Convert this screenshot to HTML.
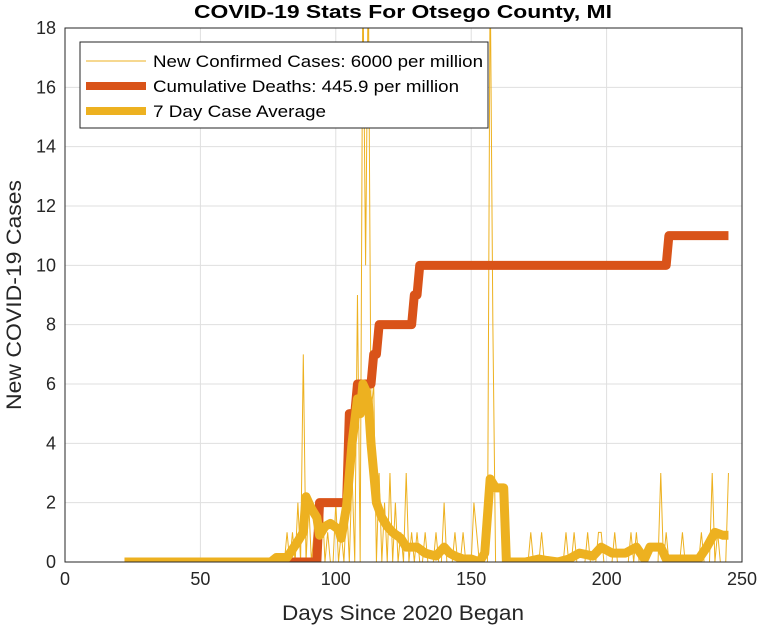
<!DOCTYPE html>
<html><head><meta charset="utf-8"><style>
body{margin:0;background:#fff;font-family:"Liberation Sans",sans-serif}
svg text{font-family:"Liberation Sans",sans-serif}
</style></head><body>
<svg id="chart" width="761" height="630">
<rect width="761" height="630" fill="#fff"/>
<g id="grid"></g><g id="series"></g><g id="axes"></g>
<text x="403" y="18" text-anchor="middle" font-size="18" font-weight="bold" fill="#000" textLength="418" lengthAdjust="spacingAndGlyphs">COVID-19 Stats For Otsego County, MI</text>
<text x="403" y="620" text-anchor="middle" font-size="21" fill="#262626" textLength="242" lengthAdjust="spacingAndGlyphs">Days Since 2020 Began</text>
<text transform="translate(21,295) rotate(-90)" text-anchor="middle" font-size="21" fill="#262626" textLength="230" lengthAdjust="spacingAndGlyphs">New COVID-19 Cases</text>
<g>
<rect x="80" y="42" width="408" height="86" fill="#fff" stroke="#262626" stroke-width="1"/>
<line x1="86" y1="61" x2="146" y2="61" stroke="#EDB120" stroke-width="1"/>
<text x="153" y="67" font-size="17" fill="#000" textLength="330" lengthAdjust="spacingAndGlyphs">New Confirmed Cases: 6000 per million</text>
<line x1="86" y1="86" x2="146" y2="86" stroke="#D95319" stroke-width="8"/>
<text x="153" y="92" font-size="17" fill="#000" textLength="306" lengthAdjust="spacingAndGlyphs">Cumulative Deaths: 445.9 per million</text>
<line x1="86" y1="111" x2="146" y2="111" stroke="#EDB120" stroke-width="8"/>
<text x="153" y="117" font-size="17" fill="#000" textLength="173" lengthAdjust="spacingAndGlyphs">7 Day Case Average</text>
</g>
</svg>
<script>
const xTicks=[0,50,100,150,200,250];
const yTicks=[0,2,4,6,8,10,12,14,16,18];
const caseDays=[82,84,86,88,90,92,95,97,100,102,104,106,108,110,111,112,113,114,116,118,120,122,124,126,128,130,133,137,140,144,147,151,152,157,158,172,176,185,188,193,197,198,203,209,211,220,222,228,235,239,241,245];
const caseVals=[1,1,2,7,2,1,2,1,2,1,2,3,9,20,10,20,5,6,3,2,3,2,1,3,1,1,1,1,2,1,1,2,1,20,8,1,1,1,1,1,1,1,1,1,1,3,1,1,1,3,1,3];
const caseStart=22, caseEnd=245;
const avgDays=[22,76,78,82,86,88,89,91,93,94,96,98,101,102,104,106,108,109,110,111,112,113,115,117,119,121,124,126,130,133,137,140,142,144,147,150,153,155,157,159,162,163,170,175,178,182,186,190,195,198,202,207,211,214,216,220,222,228,234,237,240,243,245];
const avgVals=[0,0,0.15,0.15,0.7,1.0,2.2,1.8,1.5,0.9,1.2,1.3,1.1,0.8,1.9,4,5.5,5.0,6.0,5.8,5.4,4,2,1.5,1.2,1.0,0.8,0.5,0.5,0.3,0.2,0.5,0.3,0.2,0.1,0.1,0,0.3,2.8,2.5,2.5,0,0,0.1,0.05,0,0.1,0.3,0.2,0.5,0.3,0.3,0.5,0.1,0.5,0.5,0.1,0.1,0.1,0.5,1.0,0.9,0.9];
const deathDays=[22,93,94,104,105,107,108,113,114,115,116,128,129,130,131,222,223,245];
const deathVals=[0,0,2,2,5,5,6,6,7,7,8,8,9,9,10,10,11,11];
const X=d=>65+d*(742-65)/250, Y=v=>562-v*(562-28)/18;
const NS='http://www.w3.org/2000/svg';
function mk(p,t,a){const e=document.createElementNS(NS,t);for(const k in a)e.setAttribute(k,a[k]);p.appendChild(e);return e;}
const grid=document.getElementById('grid'),axes=document.getElementById('axes'),ser=document.getElementById('series');
xTicks.forEach(t=>{if(t>0&&t<250){const l=mk(grid,'line',{x1:X(t),x2:X(t),y1:28,y2:562,stroke:'#dfdfdf'});

}
const tx=mk(axes,'text',{x:X(t),y:585,'text-anchor':'middle','font-size':18,fill:'#262626'});tx.textContent=t;

});
yTicks.forEach(t=>{if(t>0&&t<18){const l=mk(grid,'line',{x1:65,x2:742,y1:Y(t),y2:Y(t),stroke:'#dfdfdf'});

}
const tx=mk(axes,'text',{x:56,y:Y(t)+6,'text-anchor':'end','font-size':18,fill:'#262626'});tx.textContent=t;

});
const box=mk(axes,'rect',{x:65,y:28,width:677,height:534,fill:'none',stroke:'#262626'});


let pts=[];for(let d=caseStart;d<=caseEnd;d++){const i=caseDays.indexOf(d);pts.push(X(d)+','+Y(i>=0?caseVals[i]:0));}
const cp=mk(document.getElementById('chart'),'clipPath',{id:'clip'});mk(cp,'rect',{x:65,y:28,width:677,height:534});
const g=mk(ser,'g',{'clip-path':'url(#clip)'});
const l1=mk(g,'polyline',{points:pts.join(' '),fill:'none',stroke:'#EDB120','stroke-width':1});


const dp=deathDays.map((d,i)=>X(d)+','+Y(deathVals[i])).join(' ');
const l2=mk(g,'polyline',{points:dp,fill:'none',stroke:'#D95319','stroke-width':9,'stroke-linejoin':'round'});


const ap=avgDays.map((d,i)=>X(d)+','+Y(avgVals[i])).join(' ');
const l3=mk(g,'polyline',{points:ap,fill:'none',stroke:'#EDB120','stroke-width':9,'stroke-linejoin':'round'});


</script>
</body></html>
